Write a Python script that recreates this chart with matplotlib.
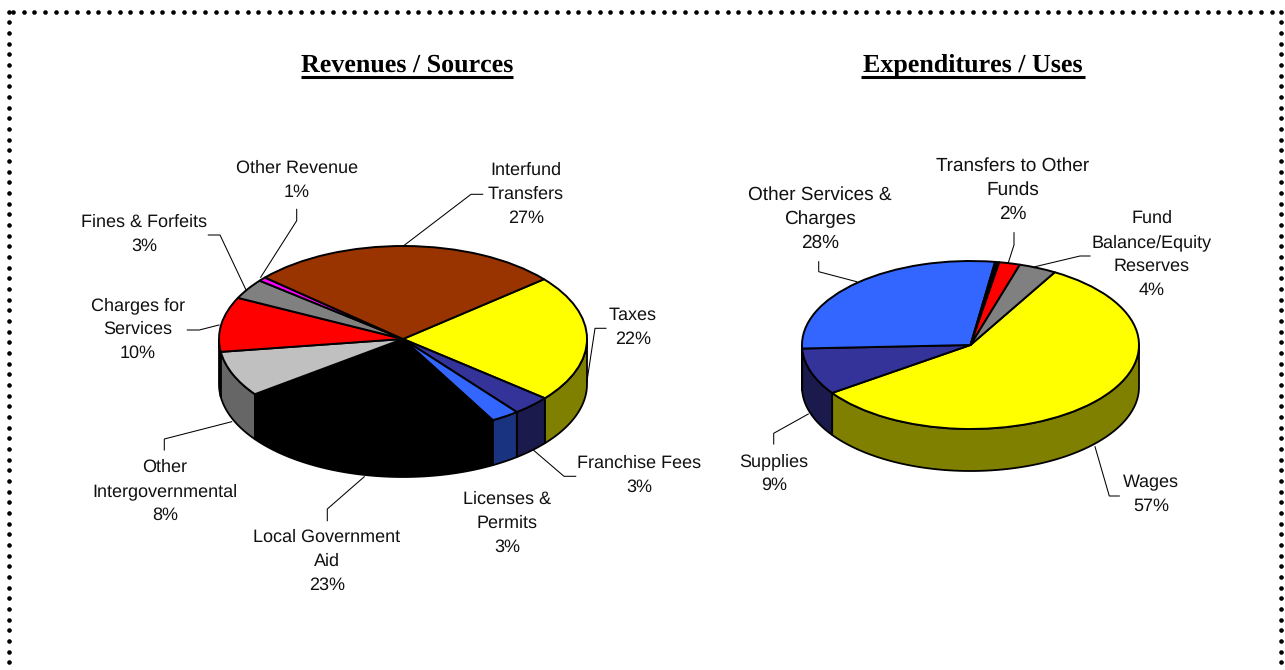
import numpy as np
import matplotlib
matplotlib.use("Agg")
import matplotlib.pyplot as plt
from matplotlib.patches import Polygon

plt.rcParams["text.hinting"] = "no_hinting"
plt.rcParams["text.hinting_factor"] = 1

W, H = 1285, 670
FONT = "Liberation Sans"
SERIF = "Liberation Serif"

# Revenues / Sources
rev_categories = ["Taxes", "Franchise Fees", "Licenses & Permits", "Local Government Aid",
                  "Other Intergovernmental", "Charges for Services", "Fines & Forfeits",
                  "Other Revenue", "Interfund Transfers"]
rev_values = [22.1, 3.4, 2.5, 23.0, 7.9, 9.5, 3.5, 0.7, 27.4]
rev_colors = ["#FFFF00", "#333399", "#3366FF", "#000000", "#C0C0C0", "#FF0000", "#808080", "#FF00FF", "#993300"]
rev_sides = ["#808000", "#1A1A4D", "#1A3380", "#000000", "#666666", "#800000", "#404040", "#800080", "#4D1A00"]

# Expenditures / Uses
exp_categories = ["Wages", "Supplies", "Other Services & Charges", "(unlabelled)",
                  "Transfers to Other Funds", "Fund Balance/Equity Reserves"]
exp_values = [57.0, 9.0, 28.0, 0.4, 2.0, 3.6]
exp_colors = ["#FFFF00", "#333399", "#3366FF", "#000000", "#FF0000", "#808080"]
exp_sides = ["#808000", "#1A1A4D", "#1A3380", "#000000", "#800000", "#404040"]

# (lines, centre x, first baseline y, font size)
labels = [
    (["Other Revenue", "1%"], 297, 173, 12.7),
    (["Interfund", "Transfers", "27%"], 526, 175, 13.3),
    (["Fines & Forfeits", "3%"], 144, 227, 12.8),
    (["Charges for", "Services", "10%"], 138, 310, 12.8),
    (["Taxes", "22%"], 633, 320, 13.1),
    (["Franchise Fees", "3%"], 639, 468, 13.0),
    (["Licenses &", "Permits", "3%"], 507, 504, 13.1),
    (["Local Government", "Aid", "23%"], 327, 542, 12.7),
    (["Other", "Intergovernmental", "8%"], 165, 472, 12.7),
    (["Transfers to Other", "Funds", "2%"], 1013, 171, 13.4),
    (["Other Services &", "Charges", "28%"], 820, 200, 13.4),
    (["Fund", "Balance/Equity", "Reserves", "4%"], 1152, 223, 12.7),
    (["Wages", "57%"], 1151, 487, 13.0),
    (["Supplies", "9%"], 774, 466, 12.8),
]
line_step = 24

leaders = [
    [(296.7, 209.3), (296.7, 220.7), (260.7, 277.3)],
    [(208.3, 235), (220, 235), (245.7, 289.3)],
    [(187.3, 330), (199.3, 330), (219, 325)],
    [(482.7, 194.3), (471, 194.3), (403.3, 246)],
    [(606, 328.3), (595, 328.3), (586.7, 383)],
    [(164.3, 450), (164.3, 439), (231.7, 421.7)],
    [(327.3, 520.7), (327.3, 509), (364.3, 476.7)],
    [(575.7, 476.3), (564, 476.3), (533.3, 450)],
    [(818.7, 261.7), (818.7, 271.7), (856.7, 281.7)],
    [(1014, 232.7), (1014, 245), (1008.3, 262.7)],
    [(1090, 256), (1080, 256), (1035, 266.7)],
    [(773.7, 444), (773.7, 433.3), (808.3, 414)],
    [(1119.3, 496), (1109.3, 496), (1095, 446.7)],
]

fig = plt.figure(figsize=(W / 100, H / 100), dpi=100, facecolor="white")


def pie3d(values, colors, sides, start, cx, cy, rx, ry, depth):
    d = depth / ry
    m = 1.2
    ax = fig.add_axes([(cx - m * rx) / W, (H - (cy + (m + d) * ry)) / H,
                       2 * m * rx / W, (2 * m + d) * ry / H])
    # side wall: front-facing part of each wedge
    fr = np.asarray(values, float) / np.sum(values)
    edges = start - 360 * np.concatenate([[0], np.cumsum(fr)])
    for i in range(len(values)):
        a1, a2 = edges[i], edges[i + 1]
        for k in (-360, 0, 360):
            hi, lo = min(a1 + k, 0), max(a2 + k, -180)
            if hi > lo:
                t = np.radians(np.linspace(hi, lo, 80))
                x, y = np.cos(t), np.sin(t)
                pts = np.r_[np.c_[x, y], np.c_[x[::-1], y[::-1] - d]]
                ax.add_patch(Polygon(pts, closed=True, facecolor=sides[i],
                                     edgecolor="black", linewidth=1.3, joinstyle="round"))
    ax.pie(values, colors=colors, startangle=start, counterclock=False,
           wedgeprops=dict(edgecolor="black", linewidth=1.4, joinstyle="round"))
    ax.set_aspect("auto")
    ax.set_xlim(-m, m)
    ax.set_ylim(-m - d, m)
    ax.axis("off")
    return ax


pie3d(rev_values, rev_colors, rev_sides, 40, 403, 339, 184, 93, 45)
pie3d(exp_values, exp_colors, exp_sides, 60, 970.5, 345, 168.5, 84, 42)

ov = fig.add_axes([0, 0, 1, 1], zorder=5)
ov.patch.set_alpha(0)
ov.set_xlim(0, W)
ov.set_ylim(H, 0)
ov.axis("off")

for pts in leaders:
    xs, ys = zip(*pts)
    ov.plot(xs, ys, color="black", lw=0.75, solid_joinstyle="miter")

for lines, x, y0, fs in labels:
    for i, line in enumerate(lines):
        ov.text(x, y0 + i * line_step, line, ha="center", va="baseline", fontsize=fs,
                family=FONT, color="#111111")

ov.text(407, 65.5, "Revenues / Sources", ha="center", va="center", fontsize=18.6,
        family=SERIF, fontweight="bold", color="black")
ov.plot([301, 513], [77, 77], color="black", lw=2.2, solid_capstyle="butt")
ov.text(973, 65.5, "Expenditures / Uses", ha="center", va="center", fontsize=19,
        family=SERIF, fontweight="bold", color="black")
ov.plot([861, 1085], [77, 77], color="black", lw=2.2, solid_capstyle="butt")

# dotted border
step = 32 / 3
top_x = np.arange(13, 1282, step)
side_y = np.arange(22.3, 672, step)
dot = dict(marker="o", ls="none", color="black", ms=3.3, mew=0, clip_on=True)
ov.plot(top_x, np.full_like(top_x, 11.7), **dot)
ov.plot([9, 1281], [11.7, 11.7], **dot)
ov.plot(np.full_like(side_y, 9), side_y, **dot)
ov.plot(np.full_like(side_y, 1281), side_y, **dot)

fig.savefig("out.png", dpi=100)
